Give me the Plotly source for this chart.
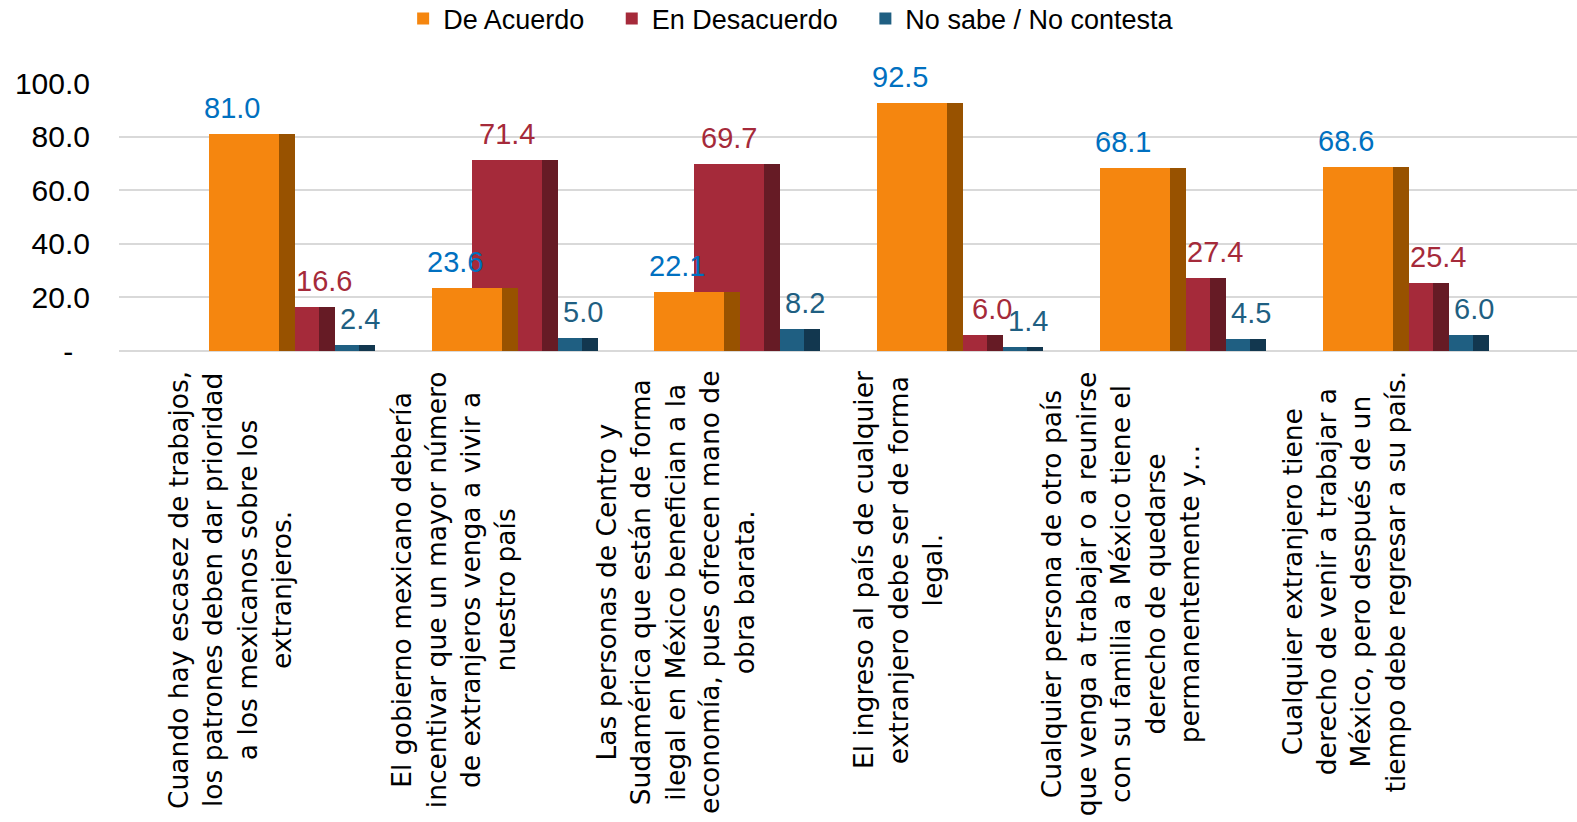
import plotly.graph_objects as go

# ---------------- data ----------------
categories = [
    "Cuando hay escasez de trabajos,<br>los patrones deben dar prioridad<br>a los mexicanos sobre los<br>extranjeros.",
    "El gobierno mexicano debería<br>incentivar que un mayor número<br>de extranjeros venga a vivir a<br>nuestro país",
    "Las personas de Centro y<br>Sudamérica que están de forma<br>ilegal en México benefician a la<br>economía, pues ofrecen mano de<br>obra barata.",
    "El ingreso al país de cualquier<br>extranjero debe ser de forma<br>legal.",
    "Cualquier persona de otro país<br>que venga a trabajar o a reunirse<br>con su familia a México tiene el<br>derecho de quedarse<br>permanentemente y…",
    "Cualquier extranjero tiene<br>derecho de venir a trabajar a<br>México, pero después de un<br>tiempo debe regresar a su país.",
]
de_acuerdo = [81.0, 23.6, 22.1, 92.5, 68.1, 68.6]
en_desacuerdo = [16.6, 71.4, 69.7, 6.0, 27.4, 25.4]
no_sabe = [2.4, 5.0, 8.2, 1.4, 4.5, 6.0]
series_names = ["De Acuerdo", "En Desacuerdo", "No sabe / No contesta"]
y_tickvals = [0, 20, 40, 60, 80, 100]
y_ticktext = ["-\u00a0\u00a0", "20.0", "40.0", "60.0", "80.0", "100.0"]

# ---------------- styles ----------------
FONT = "Liberation Sans, Arial, sans-serif"
CAT_FONT = "DejaVu Sans, Verdana, sans-serif"
front_colors = ["#F5860F", "#A52A3A", "#1F5F82"]
side_colors = ["#985200", "#661B25", "#12374F"]
label_colors = ["#0070C0", "#A52A3A", "#1F5F82"]
legend_pad = "\u00a0" * 3

PX = 222.7                      # pixels per category (for style conversions)
front_w = 70 / PX
side_w = 16 / PX
step = 40 / PX
base_off = -22 / PX

x = list(range(len(categories)))
values = [de_acuerdo, en_desacuerdo, no_sabe]

fig = go.Figure()

# draw back-most series first so the front series overlaps it (pseudo 3D)
for s in [2, 1, 0]:
    off = base_off + s * step
    fig.add_trace(go.Bar(
        x=x, y=values[s], offset=off + front_w, width=side_w,
        marker=dict(color=side_colors[s], line=dict(width=0)),
        showlegend=False, hoverinfo="skip",
    ))
    fig.add_trace(go.Bar(
        x=x, y=values[s], offset=off, width=front_w,
        name=series_names[s] + (legend_pad if s < 2 else ""),
        marker=dict(color=front_colors[s], line=dict(width=0)),
        legendrank=s + 1,
    ))

# data labels
annotations = []
for s in range(3):
    off = base_off + s * step
    for i, v in enumerate(values[s]):
        if s == 0:
            nudge = -12
        elif s == 1:
            nudge = 0 if v >= de_acuerdo[i] else 40
        else:
            nudge = 36
        annotations.append(dict(
            x=i + off + front_w / 2, y=v, xref="x", yref="y",
            text=f"{v:.1f}", showarrow=False, xanchor="center", yanchor="bottom",
            xshift=nudge, yshift=8,
            font=dict(family=FONT, size=29, color=label_colors[s]),
        ))

# category labels (rotated, centred lines)
for i, c in enumerate(categories):
    annotations.append(dict(
        x=i, y=0, xref="x", yref="paper", text=c, showarrow=False,
        textangle=-90, align="center", xanchor="center", yanchor="top",
        yshift=-18, xshift=-1,
        font=dict(family=CAT_FONT, size=26.5, color="#000000"),
    ))

fig.update_layout(
    width=1577, height=822,
    margin=dict(l=119, r=0, t=83, b=471, autoexpand=False),
    paper_bgcolor="white", plot_bgcolor="white",
    barmode="overlay", bargap=0,
    font=dict(family=FONT, size=28, color="#000000"),
    showlegend=True,
    legend=dict(orientation="h", x=0.461, xanchor="center", yref="paper", y=1.33,
                yanchor="top", font=dict(family=FONT, size=27, color="#000000"),
                traceorder="normal", itemwidth=30, bgcolor="rgba(0,0,0,0)"),
    annotations=annotations,
    xaxis=dict(range=[-0.503, 6.044], showgrid=False, zeroline=False,
               showticklabels=False, ticks="", showline=False),
    yaxis=dict(range=[0, 100], tickvals=y_tickvals, ticktext=y_ticktext,
               showgrid=True, gridcolor="#D9D9D9", gridwidth=2,
               zeroline=True, zerolinecolor="#D9D9D9", zerolinewidth=2,
               ticks="", ticklabelstandoff=28, showline=False,
               tickfont=dict(family=FONT, size=30, color="#000000")),
)

fig.write_html("out.html", config={"displayModeBar": False},
               post_script="document.body.style.margin='0';document.body.style.overflow='hidden';")
